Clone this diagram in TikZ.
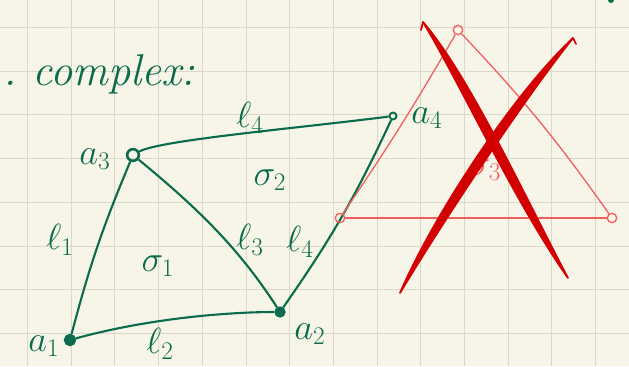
\documentclass[tikz,border=0pt]{standalone}
\usepackage{tikz,graphicx,amsmath,amssymb,xcolor}
\usetikzlibrary{positioning,calc}
\definecolor{ink}{HTML}{0A6C4C}
\definecolor{paper}{HTML}{F7F4E8}
\definecolor{rule}{HTML}{DAD7CB}
\definecolor{pale}{HTML}{F25E5E}
\definecolor{cross}{HTML}{D20000}
\newcommand{\hand}[1]{\scalebox{1.25}{$#1$}}
\tikzset{
  vtx/.style={circle,draw=ink,line width=1.6pt,inner sep=0pt,minimum size=8pt},
  rvtx/.style={circle,draw=pale,line width=1.1pt,inner sep=0pt,minimum size=8pt},
  edge/.style={draw=ink,line width=1.8pt},
  redge/.style={draw=pale,line width=1.1pt},
  lbl/.style={text=ink,inner sep=1pt,font=\fontsize{24}{28}\selectfont},
  rlbl/.style={lbl,text=pale},
  xink/.style={fill=cross,draw=cross,line width=1.5pt,line join=round,line cap=round},
}

\begin{document}
\begin{tikzpicture}[x=0.03cm,y=-0.03cm]
\fill[paper] (0,0) rectangle (629,366);
\useasboundingbox (0,0) rectangle (629,366);
% squared paper
\foreach \k in {0,...,13} \draw[rule] ({27.3+43.7*\k},0) -- ({27.3+43.7*\k},366);
\foreach \k in {0,...,7} \draw[rule] (0,{27.3+43.7*\k}) -- (629,{27.3+43.7*\k});
\fill[ink] (611,0) circle (3);

\node[lbl,anchor=base west,font=\fontsize{38}{42}\selectfont\itshape] (title) at (2,85) {.\ complex:};

% the green complex
\node[vtx,fill=ink,minimum size=9pt] (a1) at (70,340) {};
\node[vtx,fill=ink] (a2) at (280,312) {};
\node[vtx,line width=2.2pt,minimum size=10pt] (a3) at (133,155) {};
\node[vtx,minimum size=6pt] (a4) at (393,116) {};
\draw[edge] (a1) to[bend left=4] (a3);
\draw[edge] (a1) .. controls (150,318) and (230,312) .. (a2);
\draw[edge] (a3) .. controls (200,210) and (240,250) .. (a2);
\draw[edge] (a2) to[bend right=5] (a4);
\draw[edge] (a3) .. controls (160,140) and (300,128) .. (a4);

\node[lbl] (la1) at ($(a1)+(-26,6)$) {\hand{a_1}};
\node[lbl] (la2) at ($(a2)+(30,22)$) {\hand{a_2}};
\node[lbl] (la3) at ($(a3)+(-38,4)$) {\hand{a_3}};
\node[lbl] (la4) at ($(a4)+(34,2)$) {\hand{a_4}};
\node[lbl] (l1) at (60,240) {\hand{\ell_1}};
\node[lbl] (l2) at (160,344) {\hand{\ell_2}};
\node[lbl] (l3) at (250,240) {\hand{\ell_3}};
\node[lbl] (l4a) at (300,242) {\hand{\ell_4}};
\node[lbl] (l4b) at (250,118) {\hand{\ell_4}};
\node[lbl] (s1) at (158,266) {\hand{\sigma_1}};
\node[lbl] (s2) at (270,180) {\hand{\sigma_2}};

% the red triangle, crossed out
\node[rvtx] (b1) at (458,30) {};
\node[rvtx] (b2) at (340,218) {};
\node[rvtx] (b3) at (612,218) {};
\draw[redge] (b1) to[bend left=2] (b2);
\draw[redge] (b1) to[bend left=4] (b3);
\draw[redge] (b2) -- (b3);
\node[rlbl] (s3) at (485,170) {\hand{\sigma_3}};

\fill[xink] (423,22) .. controls (470,77) and (525,197) .. (568,278)
  .. controls (515,203) and (460,83) .. (423,22);
\draw[xink] (421,30) -- (423,22);
\fill[xink] (573,38) .. controls (525,98) and (445,218) .. (400,293)
  .. controls (435,212) and (515,92) .. (573,38);
\draw[xink] (573,38) -- (576,44);
\end{tikzpicture}
\end{document}
